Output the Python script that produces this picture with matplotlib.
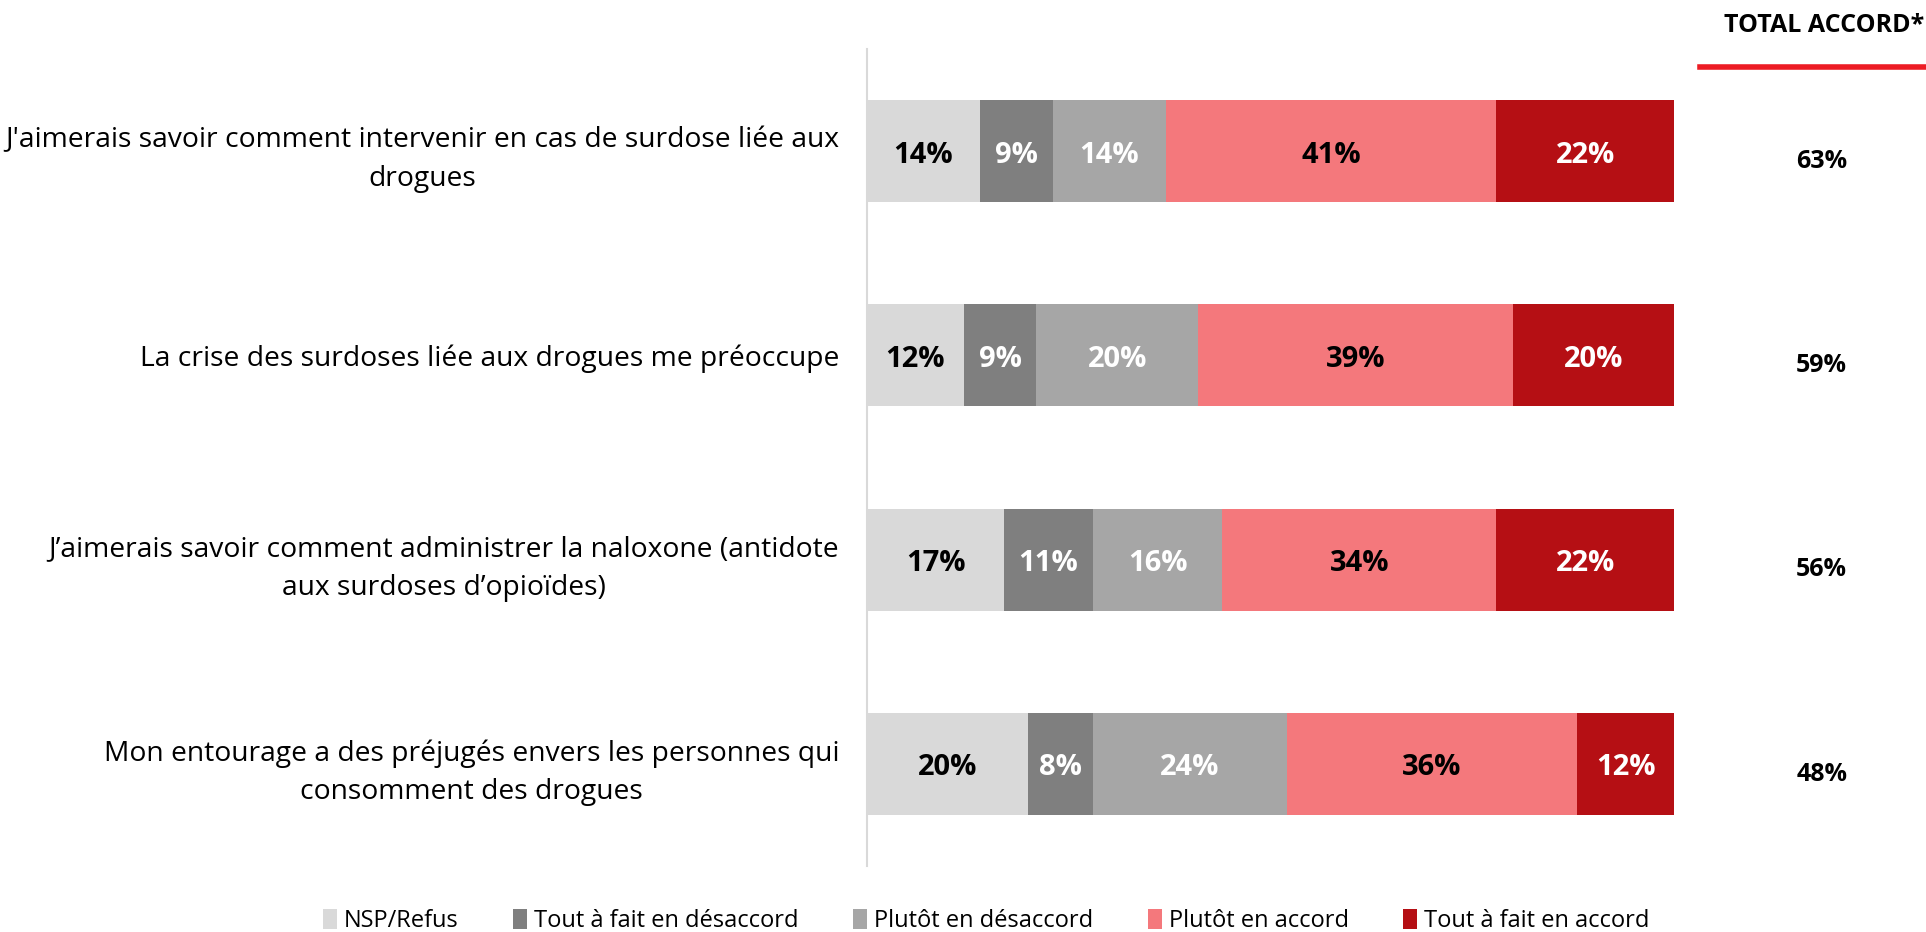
import numpy as np
import matplotlib.pyplot as plt
from matplotlib.patches import Patch
from matplotlib.lines import Line2D

# données
categories = [
    "J'aimerais savoir comment intervenir en cas de surdose liée aux\ndrogues",
    "La crise des surdoses liée aux drogues me préoccupe",
    "J’aimerais savoir comment administrer la naloxone (antidote\naux surdoses d’opioïdes)",
    "Mon entourage a des préjugés envers les personnes qui\nconsomment des drogues",
]
series_names = ["NSP/Refus", "Tout à fait en désaccord", "Plutôt en désaccord",
                "Plutôt en accord", "Tout à fait en accord"]
nsp = [14, 12, 17, 20]
tout_desaccord = [9, 9, 11, 8]
plutot_desaccord = [14, 20, 16, 24]
plutot_accord = [41, 39, 34, 36]
tout_accord = [22, 20, 22, 12]
total_accord = [63, 59, 56, 48]

colors = ["#D9D9D9", "#7F7F7F", "#A6A6A6", "#F4787C", "#B50F14"]
text_colors = ["black", "white", "white", "black", "white"]

plt.rcParams['font.family'] = ["Open Sans", "DejaVu Sans"]

fig = plt.figure(figsize=(19.26, 9.32), dpi=100)
ax = fig.add_axes([867 / 1926, 1 - 866 / 932, 807 / 1926, (866 - 49) / 932])

y = np.arange(len(categories))
left = np.zeros(len(categories))
for vals, name, col, tcol in zip(
        [nsp, tout_desaccord, plutot_desaccord, plutot_accord, tout_accord],
        series_names, colors, text_colors):
    vals = np.array(vals, dtype=float)
    ax.barh(y, vals, left=left, height=0.5, color=col, label=name)
    for yi, l, v in zip(y, left, vals):
        ax.text(l + v / 2, yi + 0.02, f"{int(v)}%", ha='center', va='center',
                color=tcol, fontsize=21, fontweight='bold')
    left += vals

ax.set_xlim(0, 100)
ax.set_ylim(3.5, -0.5)
ax.set_yticks(y)
ax.set_yticklabels(categories, fontsize=20.3, multialignment='center',
                   linespacing=1.5)
ax.tick_params(axis='y', length=0, pad=20)
ax.set_xticks([])
for s in ['top', 'right', 'bottom']:
    ax.spines[s].set_visible(False)
ax.spines['left'].set_color('#D9D9D9')
ax.spines['left'].set_linewidth(1.5)

# colonne total accord
for yi, t in zip(y, total_accord):
    ax.text(118.3, yi + 0.05, f"{t}%", ha='center', va='center',
            fontsize=18, fontweight='bold', clip_on=False)
fig.text(1824 / 1926, 1 - 25 / 932, "TOTAL ACCORD*", ha='center', va='center',
         fontsize=18, fontweight='bold')
fig.add_artist(Line2D([1700 / 1926, 1.0], [1 - 67 / 932] * 2, color='#ED1C24',
                      linewidth=4))

handles = [Patch(facecolor=c, label=n) for c, n in zip(colors, series_names)]
fig.legend(handles=handles, loc='center', bbox_to_anchor=(0.512, 1 - 921 / 932),
           ncol=5, frameon=False, fontsize=17, handlelength=0.6, handleheight=0.9,
           handletextpad=0.3, columnspacing=2.3)

fig.savefig("out.png", dpi=100)
